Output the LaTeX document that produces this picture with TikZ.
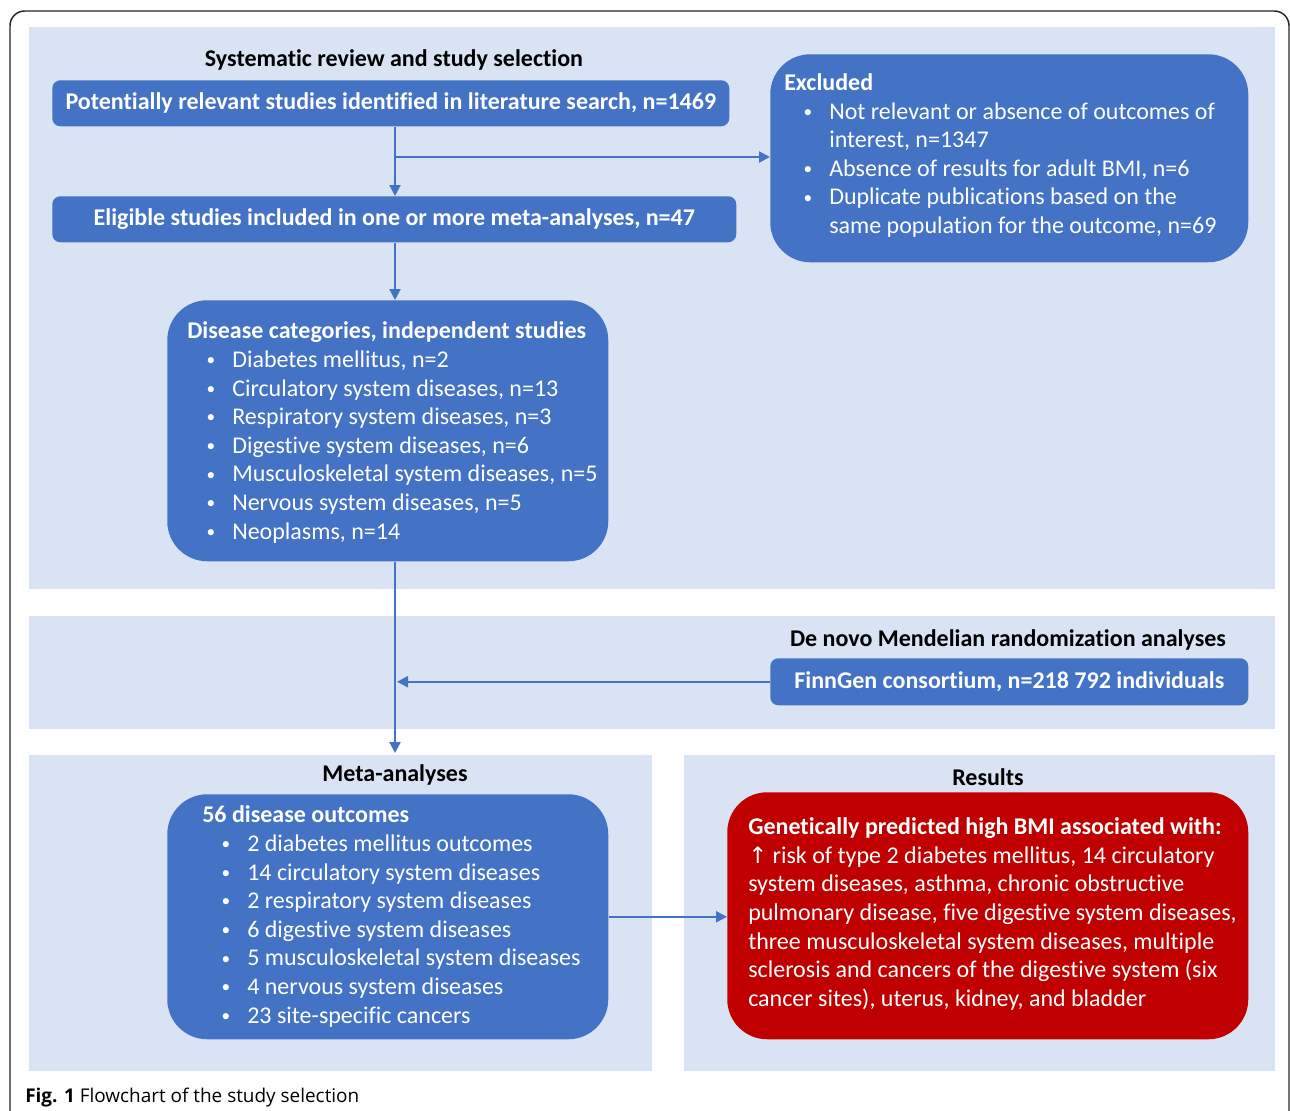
\documentclass[tikz,border=0pt]{standalone}
\usepackage{fontspec}
\setmainfont[Ligatures=NoCommon]{Carlito}
\newfontfamily\capfont{Open Sans}
\newfontfamily\symfont{DejaVu Sans}
\usetikzlibrary{arrows.meta}
\definecolor{panelblue}{HTML}{DAE3F3}
\definecolor{boxblue}{HTML}{4472C4}
\definecolor{resred}{HTML}{C00000}
\newcommand{\bdot}{\raisebox{1.3pt}{\fontsize{13}{13}\selectfont •}}
\newcommand{\bitem}[1]{\hspace*{14.5pt}\makebox[19.25pt][l]{\bdot}#1}
\newcommand{\bcont}[1]{\hspace*{33.75pt}#1}
\begin{document}
\begin{tikzpicture}[x=0.75pt,y=-0.75pt,
  panel/.style={fill=panelblue, draw=none, inner sep=0pt, anchor=north west},
  sbox/.style={fill=boxblue, draw=none, rounded corners=6pt, text=white,
    font=\fontsize{18}{21.45}\selectfont\bfseries, inner sep=0pt, align=center, anchor=north west},
  bbox/.style={fill=boxblue, draw=none, rounded corners=30pt, inner sep=0pt, anchor=north west},
  btext/.style={text=white, font=\fontsize{18}{21.45}\selectfont, align=left, inner sep=0pt, anchor=west},
  ptitle/.style={font=\fontsize{18}{20}\selectfont\bfseries, text=black, inner sep=0pt},
  conn/.style={draw=boxblue, line width=1.6pt, -{Triangle[length=8.25pt,width=8.25pt]}},
]
\useasboundingbox (0,0) rectangle (1290,1111);
% outer frame
\draw[line width=1.1pt, rounded corners=11pt, draw=black!85] (10,1140) -- (10,11) -- (1289,11) -- (1289,1140);
% panels
\node[panel, minimum width=934.5pt, minimum height=421.5pt] (p1) at (29,27) {};
\node[panel, minimum width=934.5pt, minimum height=84.75pt] (p2) at (29,616) {};
\node[panel, minimum width=467.25pt, minimum height=237pt] (p3) at (29,755) {};
\node[panel, minimum width=443.25pt, minimum height=237pt] (p4) at (684,755) {};
% panel titles
\node[ptitle] (t1) at (394,60) {Systematic review and study selection};
\node[ptitle] (t2) at (1008,640) {De novo Mendelian randomization analyses};
\node[ptitle] (t3) at (395,775) {Meta-analyses};
\node[ptitle] (t4) at (988,777) {Results};
% boxes
\node[sbox, minimum width=507.75pt, minimum height=34.5pt] (A) at (52,80) {Potentially relevant studies identified in literature search, n=1469};
\node[sbox, minimum width=513pt, minimum height=34.5pt] (B) at (52,196) {Eligible studies included in one or more meta-analyses, n=47};
\node[sbox, minimum width=358.5pt, minimum height=35.25pt] (fin) at (770,658) {FinnGen consortium, n=218 792 individuals};
\node[bbox, minimum width=358.5pt, minimum height=156pt] (exc) at (770,54) {};
\node[bbox, minimum width=330.75pt, minimum height=195.75pt] (dis) at (167,300) {};
\node[bbox, minimum width=330.75pt, minimum height=183.75pt] (out) at (167,794) {};
\node[bbox, fill=resred, minimum width=390.75pt, minimum height=185.25pt] (res) at (727,792) {};
% box texts
\node[btext] (exc-t) at (784,155.5) {\textbf{Excluded}\\
\bitem{Not relevant or absence of outcomes of}\\
\bcont{interest, n=1347}\\
\bitem{Absence of results for adult BMI, n=6}\\
\bitem{Duplicate publications based on the}\\
\bcont{same population for the outcome, n=69}};
\node[btext] (dis-t) at (187,432.5) {\textbf{Disease categories, independent studies}\\
\bitem{Diabetes mellitus, n=2}\\
\bitem{Circulatory system diseases, n=13}\\
\bitem{Respiratory system diseases, n=3}\\
\bitem{Digestive system diseases, n=6}\\
\bitem{Musculoskeletal system diseases, n=5}\\
\bitem{Nervous system diseases, n=5}\\
\bitem{Neoplasms, n=14}};
\node[btext] (out-t) at (202,916.5) {\textbf{56 disease outcomes}\\
\bitem{2 diabetes mellitus outcomes}\\
\bitem{14 circulatory system diseases}\\
\bitem{2 respiratory system diseases}\\
\bitem{6 digestive system diseases}\\
\bitem{5 musculoskeletal system diseases}\\
\bitem{4 nervous system diseases}\\
\bitem{23 site-specific cancers}};
\node[btext] (res-t) at (748,914) {\textbf{Genetically predicted high BMI associated with:}\\
{\symfont\fontsize{17}{21.45}\selectfont ↑} risk of type 2 diabetes mellitus, 14 circulatory\\
system diseases, asthma, chronic obstructive\\
pulmonary disease, five digestive system diseases,\\
three musculoskeletal system diseases, multiple\\
sclerosis and cancers of the digestive system (six\\
cancer sites), uterus, kidney, and bladder};
% connectors
\coordinate (vx) at (395,0);
\coordinate (br) at (395,157);
\coordinate (mtop) at (395,753);
\coordinate (join) at (397,684);
\draw[conn] (A.south -| vx) -- (B.north -| vx);
\draw[conn] (br) -- (br -| exc.west);
\draw[conn] (B.south -| vx) -- (dis.north -| vx);
\draw[conn] (dis.south -| vx) -- (mtop);
\draw[conn] (fin.west) -- (fin.west -| join);
\draw[conn] (out.east) -- (out.east -| res.west);
% caption
\node[anchor=west, inner sep=0pt, font=\capfont\fontsize{14.2}{16}\selectfont] (cap) at (25,1097.5) {\textbf{Fig. 1} Flowchart of the study selection};
\end{tikzpicture}
\end{document}
